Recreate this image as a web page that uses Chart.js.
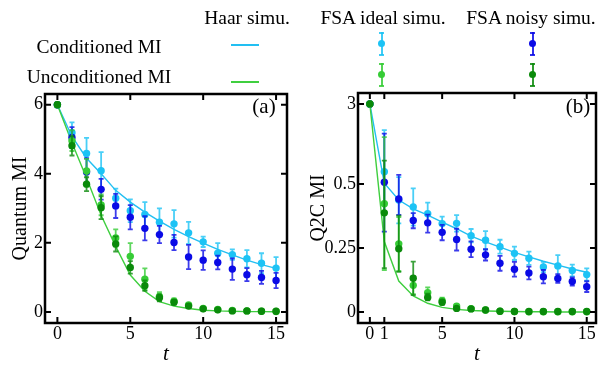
<!DOCTYPE html>
<html>
<head>
<meta charset="utf-8">
<script src="https://cdn.jsdelivr.net/npm/chart.js@4.4.1/dist/chart.umd.min.js"></script>
<style>
  body { margin: 0; background: #fff; }
  #wrap { position: relative; width: 600px; height: 365px; overflow: hidden; font-family: "Liberation Serif", serif; color: #000; }
  #wrap canvas { position: absolute; top: 0; }
  .txt { position: absolute; white-space: nowrap; font-size: 19.5px; line-height: 20px; transform: translateX(-50%); }
  .hline { position: absolute; }
  .dot { position: absolute; width: 7px; height: 7px; border-radius: 50%; }
</style>
</head>
<body>
<div id="wrap">
  <canvas id="left" width="300" height="365" style="left:0"></canvas>
  <canvas id="right" width="300" height="365" style="left:300px"></canvas>
  <div id="legend"></div>
  <div class="txt" style="left:264px;top:95px;font-size:21px;line-height:22px">(a)</div>
  <div class="txt" style="left:578px;top:95px;font-size:21px;line-height:22px">(b)</div>
</div>
<script>
// time steps
const tSteps = [0, 1, 2, 3, 4, 5, 6, 7, 8, 9, 10, 11, 12, 13, 14, 15];

// (a) Quantum MI
const haarCondQ   = [6, 5.08, 4.45, 4.0, 3.52, 3.18, 2.89, 2.63, 2.39, 2.18, 1.99, 1.81, 1.65, 1.5, 1.37, 1.26];
const haarUncondQ = [6, 4.9, 3.88, 2.8, 1.9, 1.07, 0.6, 0.3, 0.17, 0.1, 0.05, 0.03, 0.02, 0.01, 0.01, 0.005];
const idealCondQ     = [6, 5.19, 4.59, 4.09, 3.29, 2.93, 2.82, 2.6, 2.55, 2.29, 2.03, 1.7, 1.66, 1.54, 1.41, 1.27];
const idealCondQErr  = [0, 0.3, 0.45, 0.54, 0.28, 0.33, 0.36, 0.4, 0.4, 0.32, 0.15, 0.29, 0.15, 0.25, 0.29, 0.32];
const noisyCondQ     = [6, 5.05, 4.05, 3.55, 3.07, 2.74, 2.42, 2.24, 2.01, 1.59, 1.5, 1.43, 1.24, 1.08, 1.0, 0.91];
const noisyCondQErr  = [0, 0.3, 0.4, 0.3, 0.35, 0.35, 0.35, 0.25, 0.22, 0.35, 0.28, 0.2, 0.31, 0.19, 0.19, 0.22];
const idealUncondQ    = [6, 4.96, 4.08, 3.1, 2.14, 1.61, 0.95, 0.45, 0.31, 0.2, 0.1, 0.07, 0.04, 0.03, 0.02, 0.015];
const idealUncondQErr = [0, 0.3, 0.35, 0.3, 0.25, 0.38, 0.31, 0.12, 0.08, 0.06, 0.04, 0.03, 0.02, 0.02, 0.01, 0.01];
const noisyUncondQ    = [6, 4.81, 3.7, 3.02, 1.97, 1.29, 0.76, 0.41, 0.28, 0.17, 0.09, 0.06, 0.03, 0.03, 0.02, 0.02];
const noisyUncondQErr = [0, 0.28, 0.2, 0.33, 0.22, 0.18, 0.15, 0.1, 0.07, 0.05, 0.03, 0.02, 0.02, 0.01, 0.01, 0.01];

// (b) Q2C MI (axis is broken above 0.5)
const haarCondC   = [3, 0.52, 0.437, 0.403, 0.378, 0.351, 0.325, 0.296, 0.274, 0.253, 0.233, 0.215, 0.198, 0.183, 0.168, 0.155];
const haarUncondC = [3, 0.275, 0.121, 0.0625, 0.034, 0.018, 0.01, 0.006, 0.004, 0.003, 0.002, 0.001, 0.001, 0, 0, 0];
const idealCondC   = [3, 0.88, 0.437, 0.41, 0.384, 0.345, 0.346, 0.298, 0.28, 0.255, 0.229, 0.21, 0.176, 0.18, 0.162, 0.146];
const idealCondCLo = [3, 0.386, 0.346, 0.337, 0.345, 0.32, 0.314, 0.272, 0.244, 0.228, 0.203, 0.184, 0.156, 0.138, 0.139, 0.122];
const idealCondCHi = [3, 2.18, 0.71, 0.483, 0.427, 0.372, 0.378, 0.324, 0.316, 0.282, 0.255, 0.236, 0.196, 0.222, 0.185, 0.17];
const noisyCondC   = [3, 0.55, 0.441, 0.357, 0.348, 0.311, 0.283, 0.245, 0.223, 0.19, 0.167, 0.152, 0.138, 0.131, 0.119, 0.099];
const noisyCondCLo = [3, 0.314, 0.379, 0.327, 0.31, 0.28, 0.24, 0.214, 0.201, 0.161, 0.138, 0.127, 0.112, 0.114, 0.103, 0.078];
const noisyCondCHi = [3, 2.07, 0.78, 0.386, 0.38, 0.34, 0.325, 0.276, 0.245, 0.219, 0.196, 0.177, 0.164, 0.148, 0.135, 0.12];
const idealUncondC   = [3, 0.423, 0.266, 0.104, 0.075, 0.044, 0.023, 0.013, 0.008, 0.003, 0.002, 0.001, 0.001, 0.001, 0.001, 0.001];
const idealUncondCLo = [3, 0.164, 0.16, 0.07, 0.057, 0.034, 0.016, 0.008, 0.005, 0.001, 0.001, 0, 0, 0, 0, 0];
const idealUncondCHi = [3, 1.96, 0.37, 0.14, 0.096, 0.056, 0.03, 0.018, 0.011, 0.005, 0.003, 0.002, 0.002, 0.002, 0.002, 0.002];
const noisyUncondC   = [3, 0.387, 0.247, 0.132, 0.057, 0.038, 0.014, 0.012, 0.008, 0.003, 0.002, 0.002, 0.002, 0.002, 0.002, 0.002];
const noisyUncondCLo = [3, 0.171, 0.157, 0.066, 0.045, 0.028, 0.009, 0.008, 0.005, 0.001, 0.001, 0.001, 0.001, 0.001, 0.001, 0.001];
const noisyUncondCHi = [3, 1.23, 0.376, 0.197, 0.072, 0.048, 0.02, 0.016, 0.011, 0.005, 0.003, 0.003, 0.003, 0.003, 0.003, 0.003];

const xTicksA = [0, 5, 10, 15];
const yTicksA = [0, 2, 4, 6];
const xTicksB = [0, 1, 5, 10, 15];
const yTicksB = [0, 0.25, 0.5, 3];

const C = {
    haarCond: '#22bff2', haarUncond: '#3fcf3f',
    idealCond: '#1cc3f5', noisyCond: '#0a0ae6',
    idealUncond: '#36cc36', noisyUncond: '#0a8a0a',
};
const FONT = 'Liberation Serif';

// values above 0.5 are squeezed 8x on panel (b)
const squeeze = v => v <= 0.5 ? v : 0.5 + (v - 0.5) / 8;
const unsqueeze = v => v <= 0.5 ? v : 0.5 + (v - 0.5) * 8;

const errorBars = {
    id: 'errorBars',
    beforeDatasetDraw(chart, args) {
        const ds = chart.data.datasets[args.index];
        if (!ds.errLo) return;
        const ctx = chart.ctx, ys = chart.scales.y;
        ctx.save();
        ctx.strokeStyle = ds.borderColor;
        ctx.globalAlpha = 0.8;
        ctx.lineWidth = 1.8;
        args.meta.data.forEach((pt, i) => {
            const lo = ys.getPixelForValue(ds.errLo[i]);
            const hi = ys.getPixelForValue(ds.errHi[i]);
            if (Math.abs(lo - hi) < 1) return;
            ctx.beginPath();
            ctx.moveTo(pt.x, lo); ctx.lineTo(pt.x, hi);
            ctx.moveTo(pt.x - 2.5, lo); ctx.lineTo(pt.x + 2.5, lo);
            ctx.moveTo(pt.x - 2.5, hi); ctx.lineTo(pt.x + 2.5, hi);
            ctx.stroke();
        });
        ctx.restore();
    }
};

const frame = {
    id: 'frame',
    afterDraw(chart) {
        const { ctx, chartArea: a, scales } = chart;
        ctx.save();
        ctx.strokeStyle = '#000';
        ctx.lineWidth = 2;
        ctx.beginPath();
        scales.x.ticks.forEach(t => {
            const x = scales.x.getPixelForValue(t.value);
            ctx.moveTo(x, a.bottom); ctx.lineTo(x, a.bottom - 6);
            ctx.moveTo(x, a.top); ctx.lineTo(x, a.top + 6);
        });
        scales.y.ticks.forEach(t => {
            const y = scales.y.getPixelForValue(t.value);
            ctx.moveTo(a.left, y); ctx.lineTo(a.left + 6, y);
            ctx.moveTo(a.right, y); ctx.lineTo(a.right - 6, y);
        });
        ctx.stroke();
        ctx.lineWidth = 2.5;
        ctx.strokeRect(a.left, a.top, a.width, a.height);
        ctx.restore();
    }
};

function pts(ys, f) {
    return tSteps.map((t, i) => ({ x: t, y: f(ys[i]) }));
}

function lineSet(ys, color, f) {
    return { data: pts(ys, f), showLine: true, borderColor: color, borderWidth: 1.4, pointRadius: 0, fill: false };
}

function dotSet(ys, lo, hi, color, f) {
    return {
        data: pts(ys, f), showLine: false, borderColor: color, backgroundColor: color,
        pointRadius: 3.7, pointBorderWidth: 0,
        errLo: lo.map(f), errHi: hi.map(f),
    };
}

function makePanel(id, cfg) {
    return new Chart(document.getElementById(id), {
        type: 'scatter',
        data: { datasets: cfg.datasets },
        options: {
            responsive: false,
            animation: false,
            events: [],
            layout: { padding: cfg.padding },
            plugins: { legend: { display: false }, tooltip: { enabled: false } },
            scales: {
                x: {
                    type: 'linear', min: cfg.xMin, max: cfg.xMax,
                    afterBuildTicks: s => { s.ticks = cfg.xTicks.map(v => ({ value: v })); },
                    afterFit: s => { s.height = 42; },
                    grid: { display: false, drawTicks: false },
                    border: { display: false },
                    ticks: { font: { family: FONT, size: 18 }, color: '#000', padding: 0, maxRotation: 0, callback: v => String(v) },
                    title: { display: true, text: 't', font: { family: FONT, size: 21, style: 'italic' }, color: '#000', padding: { top: 0, bottom: -2 } },
                },
                y: {
                    type: 'linear', min: cfg.yMin, max: cfg.yMax,
                    afterBuildTicks: s => { s.ticks = cfg.yTicks.map(v => ({ value: v })); },
                    afterFit: s => { s.width = cfg.yWidth; },
                    grid: { display: false, drawTicks: false },
                    border: { display: false },
                    ticks: { font: { family: FONT, size: 18 }, color: '#000', padding: 2, callback: cfg.yLabel },
                    title: { display: true, text: cfg.yTitle, font: { family: FONT, size: 20 }, color: '#000', padding: { top: cfg.titlePad, bottom: 0 } },
                },
            },
        },
        plugins: [errorBars, frame],
    });
}

const id = v => v;
const err = (ys, e, s) => ys.map((v, i) => v + s * e[i]);

makePanel('left', {
    padding: { left: 0, top: 94, right: 13, bottom: 0 },
    xMin: -0.85, xMax: 15.75, yMin: -0.32, yMax: 6.31,
    xTicks: xTicksA, yTicks: yTicksA, yWidth: 45, titlePad: 9,
    yTitle: 'Quantum MI', yLabel: v => String(v),
    datasets: [
        dotSet(noisyUncondQ, err(noisyUncondQ, noisyUncondQErr, -1), err(noisyUncondQ, noisyUncondQErr, 1), C.noisyUncond, id),
        dotSet(idealUncondQ, err(idealUncondQ, idealUncondQErr, -1), err(idealUncondQ, idealUncondQErr, 1), C.idealUncond, id),
        dotSet(noisyCondQ, err(noisyCondQ, noisyCondQErr, -1), err(noisyCondQ, noisyCondQErr, 1), C.noisyCond, id),
        dotSet(idealCondQ, err(idealCondQ, idealCondQErr, -1), err(idealCondQ, idealCondQErr, 1), C.idealCond, id),
        lineSet(haarUncondQ, C.haarUncond, id),
        lineSet(haarCondQ, C.haarCond, id),
    ],
});

makePanel('right', {
    padding: { left: 0, top: 93, right: 2, bottom: 0 },
    xMin: -0.82, xMax: 15.64, yMin: -0.043, yMax: 0.855,
    xTicks: xTicksB, yTicks: yTicksB.map(squeeze), yWidth: 58, titlePad: 7,
    yTitle: 'Q2C MI', yLabel: v => String(+unsqueeze(v).toFixed(2)),
    datasets: [
        dotSet(noisyUncondC, noisyUncondCLo, noisyUncondCHi, C.noisyUncond, squeeze),
        dotSet(idealUncondC, idealUncondCLo, idealUncondCHi, C.idealUncond, squeeze),
        dotSet(noisyCondC, noisyCondCLo, noisyCondCHi, C.noisyCond, squeeze),
        dotSet(idealCondC, idealCondCLo, idealCondCHi, C.idealCond, squeeze),
        lineSet(haarUncondC, C.haarUncond, squeeze),
        lineSet(haarCondC, C.haarCond, squeeze),
    ],
});

// legend built as plain html
const legend = document.getElementById('legend');
function add(cls, style, text) {
    const el = document.createElement('div');
    el.className = cls;
    el.style.cssText = style;
    if (text) el.textContent = text;
    legend.appendChild(el);
}
add('txt', 'left:247px;top:8px', 'Haar simu.');
add('txt', 'left:383px;top:8px', 'FSA ideal simu.');
add('txt', 'left:531px;top:8px', 'FSA noisy simu.');
add('txt', 'left:99px;top:37px', 'Conditioned MI');
add('txt', 'left:99px;top:67px', 'Unconditioned MI');
add('hline', `left:231px;width:28px;top:44px;height:2px;background:${C.haarCond}`);
add('hline', `left:231px;width:28px;top:81px;height:2px;background:${C.haarUncond}`);
function errSample(x, yc, color) {
    add('hline', `left:${x - 1}px;top:${yc - 11.5}px;height:23px;width:2px;background:${color};opacity:0.85`);
    add('hline', `left:${x - 2.5}px;width:5px;top:${yc - 12}px;height:2px;background:${color};opacity:0.85`);
    add('hline', `left:${x - 2.5}px;width:5px;top:${yc + 10}px;height:2px;background:${color};opacity:0.85`);
    add('dot', `left:${x - 3.5}px;top:${yc - 3.5}px;background:${color}`);
}
errSample(381.5, 43.5, C.idealCond);
errSample(381.5, 74.5, C.idealUncond);
errSample(532.5, 43.5, C.noisyCond);
errSample(532.5, 74.5, C.noisyUncond);
</script>
</body>
</html>
